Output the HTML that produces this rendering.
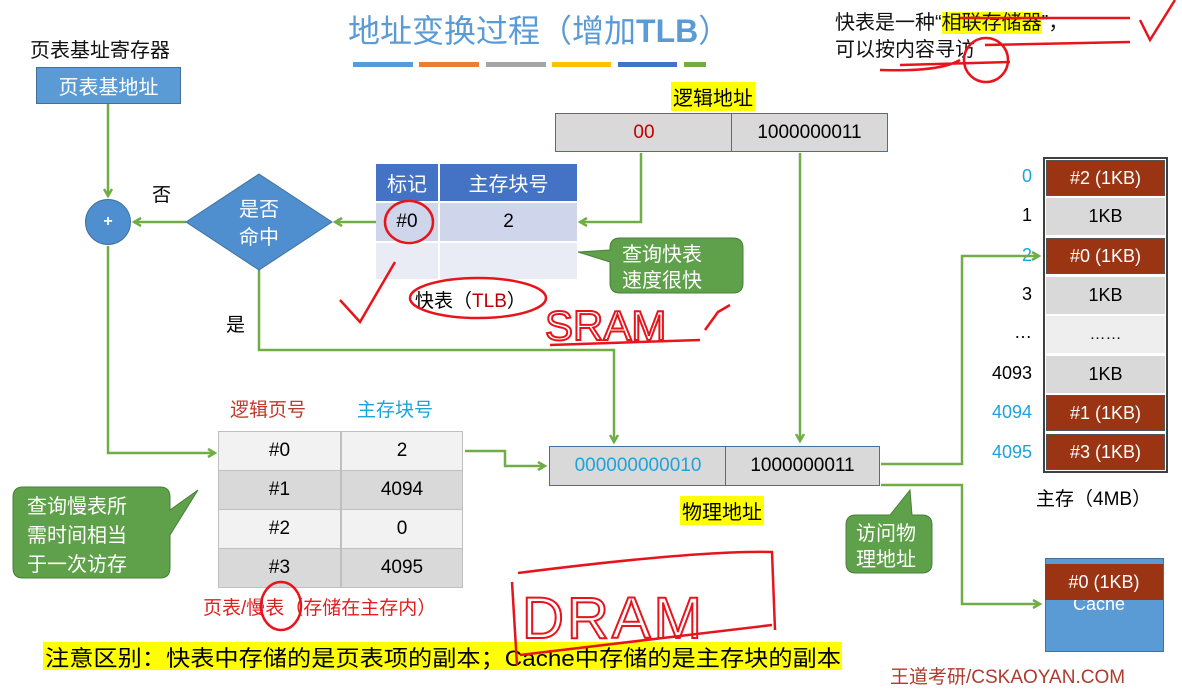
<!DOCTYPE html>
<html><head><meta charset="utf-8"><style>
body{margin:0;width:1182px;height:682px;background:#fff;overflow:hidden;position:relative;font-family:"Liberation Sans","Noto Sans CJK SC",sans-serif;}
.a{position:absolute;white-space:nowrap;}
.c{position:absolute;display:flex;align-items:center;justify-content:center;box-sizing:border-box;}
</style></head><body>
<div class="a" style="left:348px;top:6px;font-size:32px;color:#5b9bd5;">地址变换过程（增加<b>TLB</b>）</div>
<div class="a" style="left:353px;top:62px;width:60px;height:5px;background:#5b9bd5"></div>
<div class="a" style="left:419px;top:62px;width:60px;height:5px;background:#ed7d31"></div>
<div class="a" style="left:486px;top:62px;width:60px;height:5px;background:#a5a5a5"></div>
<div class="a" style="left:552px;top:62px;width:59px;height:5px;background:#ffc000"></div>
<div class="a" style="left:618px;top:62px;width:59px;height:5px;background:#4472c4"></div>
<div class="a" style="left:684px;top:62px;width:22px;height:5px;background:#70ad47"></div>

<div class="a" style="left:835px;top:6px;font-size:20px;color:#111;">快表是一种“<span style="background:#ffff00">相联存储器</span>”，</div>
<div class="a" style="left:835px;top:33px;font-size:20px;color:#111;">可以按内容寻访</div>

<div class="a" style="left:30px;top:34px;font-size:20px;color:#111;">页表基址寄存器</div>
<div class="c" style="left:36px;top:67px;width:145px;height:37px;background:#5b9bd5;border:1px solid #41719c;color:#fff;font-size:20px;">页表基地址</div>

<div class="c" style="left:85px;top:199px;width:46px;height:46px;border-radius:50%;background:#4f8fd0;border:1px solid #41719c;color:#fff;font-size:16px;font-weight:bold;">+</div>
<div class="a" style="left:152px;top:180px;font-size:19px;">否</div>
<div class="a" style="left:226px;top:310px;font-size:19px;">是</div>

<div class="c" style="left:376px;top:164px;width:62px;height:37px;background:#4472c4;color:#fff;font-size:20px;">标记</div>
<div class="c" style="left:440px;top:164px;width:137px;height:37px;background:#4472c4;color:#fff;font-size:20px;">主存块号</div>
<div class="c" style="left:376px;top:203px;width:62px;height:38px;background:#cfd5ea;font-size:19px;">#0</div>
<div class="c" style="left:440px;top:203px;width:137px;height:38px;background:#cfd5ea;font-size:19px;">2</div>
<div class="c" style="left:376px;top:243px;width:62px;height:36px;background:#e9ebf5;"></div>
<div class="c" style="left:440px;top:243px;width:137px;height:36px;background:#e9ebf5;"></div>
<div class="a" style="left:415px;top:286px;font-size:19px;">快表（<span style="color:#c00000">TLB</span>）</div>

<div class="a" style="left:671px;top:82px;font-size:20px;background:#ffff00;padding:0 2px;">逻辑地址</div>
<div class="c" style="left:555px;top:113px;width:178px;height:39px;background:#d9d9d9;border:1.5px solid #41719c;color:#c00000;font-size:19px;">00</div>
<div class="c" style="left:731px;top:113px;width:157px;height:39px;background:#d9d9d9;border:1.5px solid #41719c;font-size:19px;">1000000011</div>

<div class="a" style="left:230px;top:395px;font-size:19px;color:#c0392b;">逻辑页号</div>
<div class="a" style="left:357px;top:395px;font-size:19px;color:#1ca3dd;">主存块号</div>
<div class="a" style="left:218px;top:431px;width:245px;height:157px;background:#bfbfbf;"></div>
<div class="c" style="left:219px;top:432px;width:121px;height:38px;background:#f2f2f2;font-size:19px;">#0</div>
<div class="c" style="left:342px;top:432px;width:120px;height:38px;background:#f2f2f2;font-size:19px;">2</div>
<div class="c" style="left:219px;top:471px;width:121px;height:38px;background:#d9d9d9;font-size:19px;">#1</div>
<div class="c" style="left:342px;top:471px;width:120px;height:38px;background:#d9d9d9;font-size:19px;">4094</div>
<div class="c" style="left:219px;top:510px;width:121px;height:38px;background:#f2f2f2;font-size:19px;">#2</div>
<div class="c" style="left:342px;top:510px;width:120px;height:38px;background:#f2f2f2;font-size:19px;">0</div>
<div class="c" style="left:219px;top:549px;width:121px;height:38px;background:#d9d9d9;font-size:19px;">#3</div>
<div class="c" style="left:342px;top:549px;width:120px;height:38px;background:#d9d9d9;font-size:19px;">4095</div>
<div class="a" style="left:203px;top:593px;font-size:19px;color:#e02020;">页表/慢表（存储在主存内）</div>

<div class="c" style="left:549px;top:446px;width:178px;height:40px;background:#d9d9d9;border:1.5px solid #41719c;color:#1ca3dd;font-size:19px;">000000000010</div>
<div class="c" style="left:725px;top:446px;width:155px;height:40px;background:#d9d9d9;border:1.5px solid #41719c;font-size:19px;">1000000011</div>
<div class="a" style="left:680px;top:496px;font-size:20px;background:#ffff00;padding:0 2px;">物理地址</div>

<div class="a" style="left:1043px;top:157px;width:125px;height:316px;border:2px solid #404040;box-sizing:border-box;background:#fff"></div>
<div class="c" style="left:1046px;top:160px;width:119px;height:36px;background:#9a3412;color:#fff;font-size:18px;border:1px solid #555">#2 (1KB)</div>
<div class="c" style="left:1046px;top:198px;width:119px;height:37px;background:#d9d9d9;font-size:18px;">1KB</div>
<div class="c" style="left:1046px;top:238px;width:119px;height:36px;background:#9a3412;color:#fff;font-size:18px;border:1px solid #555">#0 (1KB)</div>
<div class="c" style="left:1046px;top:277px;width:119px;height:37px;background:#d9d9d9;font-size:18px;">1KB</div>
<div class="c" style="left:1046px;top:316px;width:119px;height:37px;background:#eeeeee;font-size:16px;">……</div>
<div class="c" style="left:1046px;top:356px;width:119px;height:37px;background:#d9d9d9;font-size:18px;">1KB</div>
<div class="c" style="left:1046px;top:395px;width:119px;height:36px;background:#9a3412;color:#fff;font-size:18px;border:1px solid #555">#1 (1KB)</div>
<div class="c" style="left:1046px;top:434px;width:119px;height:36px;background:#9a3412;color:#fff;font-size:18px;border:1px solid #555">#3 (1KB)</div>
<div class="a" style="left:990px;top:166px;width:42px;text-align:right;font-size:18px;color:#1ca3dd">0</div>
<div class="a" style="left:990px;top:205px;width:42px;text-align:right;font-size:18px;">1</div>
<div class="a" style="left:990px;top:245px;width:42px;text-align:right;font-size:18px;color:#1ca3dd">2</div>
<div class="a" style="left:990px;top:284px;width:42px;text-align:right;font-size:18px;">3</div>
<div class="a" style="left:990px;top:322px;width:42px;text-align:right;font-size:18px;">…</div>
<div class="a" style="left:980px;top:363px;width:52px;text-align:right;font-size:18px;">4093</div>
<div class="a" style="left:980px;top:402px;width:52px;text-align:right;font-size:18px;color:#1ca3dd">4094</div>
<div class="a" style="left:980px;top:442px;width:52px;text-align:right;font-size:18px;color:#1ca3dd">4095</div>
<div class="a" style="left:1036px;top:484px;font-size:19px;">主存（4MB）</div>

<div class="a" style="left:1045px;top:558px;width:117px;height:92px;background:#5b9bd5;border:1px solid #41719c"></div>
<div class="a" style="left:1073px;top:594px;font-size:18px;color:#fff">Cache</div>
<div class="c" style="left:1045px;top:564px;width:118px;height:36px;background:#9a3412;color:#fff;font-size:18px;">#0 (1KB)</div>

<div class="a" style="left:43px;top:642px;width:799px;height:28px;background:#ffff00"></div>
<div class="a" style="left:45px;top:641px;font-size:22px;transform:scaleX(1.1);transform-origin:0 0;">注意区别：快表中存储的是页表项的副本；Cache中存储的是主存块的副本</div>
<div class="a" style="left:890px;top:662px;font-size:19px;color:#b03a2e;">王道考研/CSKAOYAN.COM</div>

<svg class="a" style="left:0;top:0" width="1182" height="682" viewBox="0 0 1182 682">
<defs><marker id="ar" markerWidth="10" markerHeight="10" refX="8" refY="5" orient="auto" markerUnits="userSpaceOnUse"><path d="M1,1 L8,5 L1,9" fill="none" stroke="#70ad47" stroke-width="2.5"/></marker></defs>
<g fill="none" stroke="#70ad47" stroke-width="2.5">
<path d="M108,104 V196" marker-end="url(#ar)"/>
<path d="M186,222 H134" marker-end="url(#ar)"/>
<path d="M376,222 H335" marker-end="url(#ar)"/>
<path d="M641,153 V222 H580" marker-end="url(#ar)"/>
<path d="M800,153 V441" marker-end="url(#ar)"/>
<path d="M259,270 V350 H614 V442" marker-end="url(#ar)"/>
<path d="M108,246 V453 H215" marker-end="url(#ar)"/>
<path d="M465,451 H505 V466 H545" marker-end="url(#ar)"/>
<path d="M881,464 H962 V256 H1039" marker-end="url(#ar)"/>
<path d="M881,485 H962 V604 H1040" marker-end="url(#ar)"/>
</g>
<polygon points="259,174 332,222 259,270 186,222" fill="#4f8fd0" stroke="#41719c"/>
<text x="259" y="216" text-anchor="middle" font-size="20" fill="#fff" font-family="Noto Sans CJK SC,sans-serif">是否</text>
<text x="259" y="244" text-anchor="middle" font-size="20" fill="#fff" font-family="Noto Sans CJK SC,sans-serif">命中</text>
<g fill="#5fa04a" stroke="#4a7f38" stroke-width="1">
<path d="M620,238 H733 Q743,238 743,248 V283 Q743,293 733,293 H620 Q610,293 610,283 V262 L578,252 L610,250 V248 Q610,238 620,238Z"/>
<path d="M23,487 H160 Q170,487 170,497 V510 L198,490 L170,535 V568 Q170,578 160,578 H23 Q13,578 13,568 V497 Q13,487 23,487Z"/>
<path d="M856,515 H890 L910,490 L912,515 H922 Q932,515 932,525 V563 Q932,573 922,573 H856 Q846,573 846,563 V525 Q846,515 856,515Z"/>
</g>
<g fill="#fff" font-size="20" font-family="Noto Sans CJK SC,sans-serif">
<text x="622" y="261">查询快表</text><text x="622" y="287">速度很快</text>
<text x="27" y="513">查询慢表所</text><text x="27" y="542">需时间相当</text><text x="27" y="571">于一次访存</text>
<text x="856" y="540">访问物</text><text x="856" y="566">理地址</text>
</g>
<g fill="none" stroke="#e8141c" stroke-width="2.5">
<ellipse cx="409" cy="222" rx="24" ry="21"/>
<path d="M340,300 L360,322 L395,262"/>
<ellipse cx="478" cy="298" rx="68" ry="20"/>
<path d="M705,330 L718,312 L730,305 M550,345 L700,340"/>
<path d="M518,573 Q700,550 772,552 L775,630 M512,582 L517,665 M520,655 Q650,640 772,625"/>
<ellipse cx="281" cy="606" rx="20" ry="24"/>
<circle cx="986" cy="60" r="22"/>
<path d="M880,70 Q940,72 960,60 M900,65 L1010,62 M960,18 L1130,18 M985,45 L1130,42 M1140,20 L1150,40 L1175,0"/>
</g>
<text x="545" y="340" font-size="42" fill="none" stroke="#e8141c" stroke-width="2" font-family="Liberation Sans">SRAM</text>
<text x="522" y="638" font-size="58" fill="none" stroke="#e8141c" stroke-width="2" font-family="Liberation Sans" textLength="180">DRAM</text>
</svg>
</body></html>
